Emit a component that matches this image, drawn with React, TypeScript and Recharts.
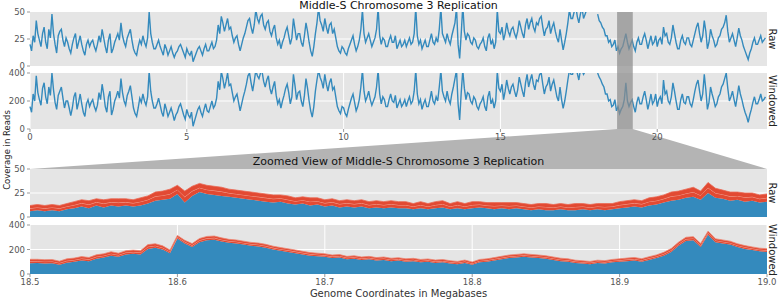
import { LineChart, Line, AreaChart, Area, XAxis, YAxis, CartesianGrid } from "recharts";

const FONT = "'DejaVu Sans', sans-serif";
const BLUE = "#348abd";
const RED = "#e24a33";
const PANEL = "#e5e5e5";

const PLOT_L = 30;
const PLOT_R = 767;

// overview: coverage sampled every 0.05 Mb from 0 Mb
const overviewStart = 0;
const overviewStep = 0.05;
const overviewMax = 23.5;
const overviewTicks = [0, 5, 10, 15, 20];
const rawTicks = [0, 25, 50];
const windowedTicks = [0, 200, 400];

const rawCoverage = [
  20, 14, 28, 22, 42, 30, 24, 18, 30, 36, 22, 16, 34, 26, 48, 30, 20, 12, 28, 32,
  34, 24, 18, 26, 22, 16, 12, 20, 26, 30, 16, 22, 28, 20, 14, 10, 20, 24, 18, 22,
  24, 18, 14, 20, 28, 22, 34, 26, 18, 12, 24, 30, 12, 16, 22, 26, 30, 24, 40, 28,
  22, 18, 26, 30, 34, 24, 16, 12, 10, 18, 24, 20, 28, 22, 18, 26, 50, 30, 22, 16,
  16, 20, 24, 18, 14, 10, 20, 16, 10, 14, 18, 12, 8, 12, 14, 18, 20, 16, 12, 8,
  16, 12, 10, 14, 4, 8, 12, 16, 18, 14, 10, 16, 20, 14, 14, 18, 22, 16, 18, 24,
  38, 30, 46, 40, 32, 38, 44, 34, 36, 28, 22, 26, 28, 20, 14, 20, 26, 30, 36, 42,
  44, 36, 30, 38, 52, 44, 40, 46, 48, 38, 34, 40, 42, 32, 28, 34, 38, 26, 20, 24,
  16, 22, 26, 32, 36, 28, 20, 26, 44, 34, 24, 30, 30, 22, 18, 28, 40, 32, 22, 14,
  9, 18, 30, 40, 54, 42, 38, 32, 44, 36, 30, 38, 40, 30, 34, 26, 18, 14, 12, 18,
  16, 12, 10, 16, 20, 24, 28, 20, 14, 18, 24, 34, 52, 30, 22, 26, 30, 24, 18, 22,
  26, 34, 54, 28, 20, 26, 24, 18, 18, 24, 28, 22, 22, 28, 16, 20, 24, 18, 20, 24,
  18, 22, 26, 20, 22, 30, 54, 28, 20, 24, 16, 20, 24, 18, 18, 24, 30, 22, 20, 26,
  22, 34, 54, 30, 26, 22, 30, 24, 20, 28, 34, 40, 54, 20, 7, 30, 56, 32, 24, 30,
  28, 22, 20, 26, 24, 18, 16, 20, 22, 26, 18, 14, 26, 30, 20, 24, 16, 22, 52, 32,
  30, 36, 24, 30, 40, 32, 28, 34, 36, 30, 26, 32, 42, 36, 30, 26, 38, 44, 34, 40,
  44, 36, 32, 40, 38, 44, 46, 36, 28, 34, 36, 42, 30, 36, 40, 32, 26, 22, 34, 24,
  15, 22, 30, 40, 52, 44, 44, 50, 56, 46, 40, 48, 54, 44, 48, 52, null, null, null, null,
  null, null, 48, 42, 40, 36, 34, 28, 28, 22, 24, 18, 20, 24, 14, 18, 12, 16, 18, 24,
  30, 22, 16, 20, 24, 18, 14, 22, 26, 20, 20, 26, 30, 24, 16, 22, 28, 20, 22, 28,
  18, 24, 26, 20, 36, 28, 30, 22, 20, 26, 38, 30, 22, 16, 16, 24, 28, 22, 20, 26,
  26, 20, 18, 24, 30, 36, 40, 30, 22, 28, 42, 32, 16, 22, 34, 28, 24, 18, 20, 26,
  28, 34, 36, 40, 47, 32, 22, 26, 30, 24, 18, 26, 35, 28, 24, 18, 14, 10, 6, 12,
  16, 22, 26, 20, 20, 24, 28, 22, 24, 26,
];

const windowedCoverage = [
  160, 120, 250, 200, 380, 260, 210, 170, 290, 330, 230, 180, 300, 240, 400, 280, 190, 140, 240, 270,
  300, 220, 150, 200, 200, 150, 95, 150, 230, 260, 140, 190, 250, 180, 120, 90, 180, 210, 160, 190,
  210, 160, 130, 170, 260, 210, 320, 250, 160, 120, 230, 270, 100, 140, 200, 230, 270, 220, 360, 260,
  200, 170, 240, 270, 310, 230, 150, 110, 90, 150, 220, 190, 250, 200, 170, 230, 410, 270, 200, 150,
  150, 180, 220, 170, 120, 90, 180, 140, 90, 120, 150, 110, 60, 100, 120, 160, 180, 140, 100, 70,
  140, 100, 80, 120, 20, 60, 100, 140, 160, 120, 90, 140, 180, 130, 120, 160, 200, 150, 170, 220,
  340, 280, 410, 360, 290, 340, 400, 310, 320, 260, 200, 230, 250, 190, 130, 180, 230, 270, 320, 380,
  400, 330, 270, 340, 420, 380, 360, 400, 410, 340, 300, 350, 380, 290, 250, 300, 340, 240, 180, 210,
  150, 200, 240, 290, 320, 260, 180, 230, 390, 310, 210, 260, 270, 200, 160, 240, 360, 290, 200, 130,
  85, 160, 270, 350, 420, 370, 340, 290, 390, 320, 270, 330, 360, 280, 300, 230, 160, 130, 110, 160,
  150, 110, 90, 140, 180, 220, 250, 190, 130, 160, 210, 300, 420, 270, 200, 230, 270, 210, 170, 200,
  230, 300, 420, 250, 180, 230, 210, 160, 160, 210, 250, 200, 190, 240, 150, 180, 210, 160, 180, 210,
  160, 200, 230, 180, 200, 270, 420, 250, 180, 210, 140, 180, 210, 160, 160, 210, 270, 200, 180, 230,
  200, 300, 420, 270, 230, 200, 270, 210, 180, 250, 300, 360, 420, 180, 64, 260, 420, 290, 210, 260,
  250, 200, 180, 230, 210, 160, 140, 180, 200, 230, 160, 130, 230, 270, 180, 210, 150, 200, 410, 290,
  270, 320, 210, 270, 350, 290, 250, 300, 320, 270, 230, 280, 370, 320, 270, 230, 330, 390, 300, 350,
  390, 320, 280, 350, 340, 390, 400, 320, 250, 300, 320, 370, 270, 320, 350, 290, 230, 200, 300, 210,
  147, 200, 270, 350, 420, 390, 390, 440, 420, 400, 350, 420, 420, 390, 410, 440, null, null, null, null,
  null, null, 400, 370, 350, 320, 300, 250, 250, 200, 210, 160, 170, 210, 130, 160, 110, 140, 160, 210,
  330, 200, 160, 190, 210, 160, 120, 190, 230, 180, 180, 230, 270, 210, 140, 190, 250, 180, 200, 250,
  160, 210, 230, 180, 350, 250, 270, 200, 180, 230, 330, 270, 200, 140, 140, 210, 250, 190, 180, 230,
  230, 180, 160, 210, 270, 320, 350, 270, 200, 250, 390, 280, 140, 190, 300, 250, 210, 160, 180, 230,
  250, 300, 320, 360, 400, 290, 200, 230, 270, 210, 160, 230, 310, 250, 210, 160, 120, 90, 48, 100,
  140, 190, 230, 180, 180, 210, 250, 200, 210, 230,
];

// zoomed region: sampled every 0.005 Mb from 18.5 Mb
const zoomStart = 18.5;
const zoomStep = 0.005;
const zoomTicks = [18.5, 18.6, 18.7, 18.8, 18.9, 19.0];
const highlight = [18.72, 19.22];

const zoomRawBlue = [
  6, 7, 6, 7, 6, 8, 9, 11, 9, 12,
  10, 12, 11, 12, 11, 12, 14, 17, 18, 19,
  24, 15, 22, 26, 24, 23, 22, 21, 20, 19,
  18, 17, 16, 15, 16, 14, 13, 14, 12, 13,
  11, 12, 10, 11, 10, 11, 9, 10, 9, 10,
  9, 9, 8, 9, 8, 9, 10, 8, 9, 8,
  9, 10, 9, 8, 9, 8, 9, 8, 7, 8,
  7, 7, 8, 7, 7, 8, 7, 8, 7, 8,
  9, 10, 11, 10, 12, 13, 15, 17, 18, 20,
  21, 18, 25, 20, 19, 17, 18, 16, 17, 15,
  16,
];
const zoomRawRed = [
  6, 6, 6, 6, 6, 6, 7, 7, 8, 7,
  8, 7, 8, 7, 7, 8, 8, 9, 9, 10,
  9, 12, 10, 9, 9, 9, 9, 8, 8, 8,
  8, 8, 8, 8, 7, 8, 7, 7, 8, 7,
  7, 7, 7, 7, 7, 7, 7, 7, 7, 7,
  7, 7, 6, 7, 6, 7, 7, 6, 7, 6,
  7, 6, 6, 7, 6, 7, 6, 6, 6, 6,
  7, 6, 6, 6, 7, 6, 6, 6, 7, 6,
  7, 7, 7, 7, 8, 8, 8, 9, 9, 9,
  10, 9, 11, 10, 9, 9, 8, 9, 8, 8,
  8,
];
const zoomWinBlue = [
  88, 90, 85, 88, 75, 92, 100, 110, 105, 125,
  135, 150, 140, 160, 165, 160, 205, 215, 200, 170,
  290, 250, 220, 260, 275, 280, 265, 255, 250, 240,
  230, 225, 215, 200, 190, 180, 170, 160, 150, 145,
  140, 130, 135, 120, 125, 115, 120, 110, 115, 105,
  110, 100, 105, 95, 100, 90, 95, 85, 80, 90,
  75, 95, 100, 110, 120, 130, 135, 140, 135, 130,
  125, 115, 105, 100, 90, 85, 80, 90, 85, 95,
  100, 105, 110, 100, 115, 130, 150, 180, 230, 270,
  275, 220, 320, 260, 250, 240, 220, 205, 195, 185,
  180,
];
const zoomWinRed = [
  32, 30, 32, 30, 30, 32, 30, 32, 30, 32,
  30, 32, 30, 30, 30, 30, 35, 32, 30, 25,
  25, 25, 28, 30, 32, 30, 30, 28, 28, 28,
  28, 28, 27, 27, 26, 26, 26, 25, 25, 25,
  25, 25, 24, 24, 24, 24, 24, 24, 24, 24,
  23, 24, 23, 24, 23, 24, 23, 24, 23, 24,
  23, 24, 24, 24, 25, 25, 25, 25, 25, 25,
  24, 24, 24, 24, 23, 23, 23, 23, 24, 24,
  24, 25, 25, 25, 26, 26, 27, 28, 30, 30,
  30, 30, 30, 28, 28, 28, 27, 27, 26, 26,
  26,
];

const overview = rawCoverage.map((raw, i) => ({
  x: Math.round((overviewStart + i * overviewStep) * 1000) / 1000,
  raw,
  windowed: windowedCoverage[i],
}));

const zoomed = zoomRawBlue.map((blue, i) => ({
  x: Math.round((zoomStart + i * zoomStep) * 1000) / 1000,
  rawBlue: blue,
  rawRedLo: zoomRawRed[i] / 2,
  rawRedHi: zoomRawRed[i] / 2,
  winBlue: zoomWinBlue[i],
  winRedLo: zoomWinRed[i] / 2,
  winRedHi: zoomWinRed[i] / 2,
}));

const tickStyle = { fontSize: 8.5, fill: "#555", fontFamily: FONT };
const tickLine = { stroke: "#999" };

const overviewX = (v: number) => PLOT_L + (v / overviewMax) * (PLOT_R - PLOT_L);

function StripLabel({ y, label }: { y: number; label: string }) {
  return (
    <text
      transform={`translate(772,${y}) rotate(90)`}
      textAnchor="middle"
      dominantBaseline="middle"
      fontSize={10}
      fill="#222"
    >
      {label}
    </text>
  );
}

export default function App() {
  const bx1 = overviewX(highlight[0]);
  const bx2 = overviewX(highlight[1]);

  return (
    <div style={{ position: "absolute", left: 0, top: 0, width: 778, height: 299, background: "#fff", fontFamily: FONT }}>
      {/* trapezoid behind the charts */}
      <svg width={778} height={299} style={{ position: "absolute", left: 0, top: 0 }}>
        <polygon points={`${bx1},129 ${bx2},129 ${PLOT_R},169 ${PLOT_L},169`} fill="#b4b4b4" />
      </svg>

      <div style={{ position: "absolute", left: 0, top: 0 }}>
        <LineChart width={778} height={72} data={overview} margin={{ top: 12, right: 778 - PLOT_R, bottom: 6, left: 0 }}>
          <CartesianGrid fill={PANEL} stroke="#fff" vertical={false} horizontalValues={[25]} />
          <XAxis type="number" dataKey="x" domain={[0, overviewMax]} hide />
          <YAxis domain={[0, 50]} ticks={rawTicks} allowDataOverflow width={PLOT_L} axisLine={false} tickSize={3} tickLine={tickLine} tick={tickStyle} />
          <Line dataKey="raw" stroke={BLUE} strokeWidth={1.4} dot={false} isAnimationActive={false} />
        </LineChart>
      </div>

      <div style={{ position: "absolute", left: 0, top: 60 }}>
        <LineChart width={778} height={90} data={overview} margin={{ top: 13, right: 778 - PLOT_R, bottom: 0, left: 0 }}>
          <CartesianGrid fill={PANEL} stroke="#fff" horizontalValues={[200]} verticalValues={overviewTicks} />
          <XAxis type="number" dataKey="x" domain={[0, overviewMax]} ticks={overviewTicks} height={21} axisLine={false} tickSize={3} tickLine={tickLine} tick={tickStyle} />
          <YAxis domain={[0, 400]} ticks={windowedTicks} allowDataOverflow width={PLOT_L} axisLine={false} tickSize={3} tickLine={tickLine} tick={tickStyle} />
          <Line dataKey="windowed" stroke={BLUE} strokeWidth={1.4} dot={false} isAnimationActive={false} />
        </LineChart>
      </div>

      <div style={{ position: "absolute", left: 0, top: 163 }}>
        <AreaChart width={778} height={60} data={zoomed} margin={{ top: 6, right: 778 - PLOT_R, bottom: 6, left: 0 }}>
          <CartesianGrid fill={PANEL} stroke="#fff" vertical={false} horizontalValues={[25]} />
          <XAxis type="number" dataKey="x" domain={[18.5, 19.0]} hide />
          <YAxis domain={[0, 50]} ticks={rawTicks} allowDataOverflow width={PLOT_L} axisLine={false} tickSize={3} tickLine={tickLine} tick={tickStyle} />
          <Area dataKey="rawBlue" stackId="r" type="linear" fill={BLUE} fillOpacity={1} stroke="none" isAnimationActive={false} />
          <Area dataKey="rawRedLo" stackId="r" type="linear" fill={RED} fillOpacity={1} stroke="#f3a293" strokeWidth={1} isAnimationActive={false} />
          <Area dataKey="rawRedHi" stackId="r" type="linear" fill={RED} fillOpacity={1} stroke="#ea6a55" strokeWidth={0.8} isAnimationActive={false} />
        </AreaChart>
      </div>

      <div style={{ position: "absolute", left: 0, top: 219 }}>
        <AreaChart width={778} height={75} data={zoomed} margin={{ top: 6, right: 778 - PLOT_R, bottom: 0, left: 0 }}>
          <CartesianGrid fill={PANEL} stroke="#fff" horizontalValues={[200]} verticalValues={zoomTicks} />
          <XAxis type="number" dataKey="x" domain={[18.5, 19.0]} ticks={zoomTicks} tickFormatter={(v: number) => v.toFixed(1)} height={20} axisLine={false} tickSize={3} tickLine={tickLine} tick={tickStyle} />
          <YAxis domain={[0, 400]} ticks={windowedTicks} allowDataOverflow width={PLOT_L} axisLine={false} tickSize={3} tickLine={tickLine} tick={tickStyle} />
          <Area dataKey="winBlue" stackId="w" type="linear" fill={BLUE} fillOpacity={1} stroke="none" isAnimationActive={false} />
          <Area dataKey="winRedLo" stackId="w" type="linear" fill={RED} fillOpacity={1} stroke="#f3a293" strokeWidth={1} isAnimationActive={false} />
          <Area dataKey="winRedHi" stackId="w" type="linear" fill={RED} fillOpacity={1} stroke="#ee8674" strokeWidth={0.8} isAnimationActive={false} />
        </AreaChart>
      </div>

      {/* highlight band, titles and labels on top */}
      <svg width={778} height={299} style={{ position: "absolute", left: 0, top: 0, pointerEvents: "none" }} fontFamily={FONT}>
        <rect x={bx1} y={12} width={bx2 - bx1} height={117} fill="#8c8c8c" fillOpacity={0.72} />
        <text x={(PLOT_L + PLOT_R) / 2} y={9} textAnchor="middle" fontSize={11} fill="#111">
          Middle-S Chromosome 3 Replication
        </text>
        <text x={(PLOT_L + PLOT_R) / 2} y={165} textAnchor="middle" fontSize={11} fill="#111">
          Zoomed View of Middle-S Chromosome 3 Replication
        </text>
        <text transform="translate(7,150) rotate(-90)" textAnchor="middle" dominantBaseline="middle" fontSize={8.5} fill="#222">
          Coverage in Reads
        </text>
        <text x={(PLOT_L + PLOT_R) / 2} y={297} textAnchor="middle" fontSize={10} fill="#333">
          Genome Coordinates in Megabases
        </text>
        <StripLabel y={39} label="Raw" />
        <StripLabel y={101} label="Windowed" />
        <StripLabel y={193} label="Raw" />
        <StripLabel y={250} label="Windowed" />
      </svg>
    </div>
  );
}
